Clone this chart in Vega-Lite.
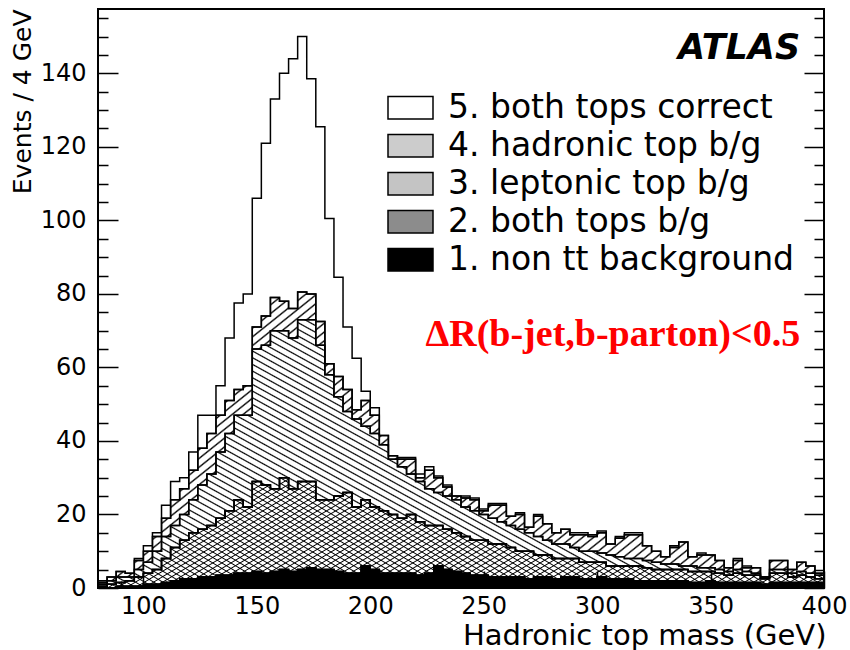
{
"$schema":"https://vega.github.io/schema/vega-lite/v6.json",
"width":726,"height":579,"autosize":"none",
"padding":{"left":98,"top":9,"right":26,"bottom":62},
"background":"white",
"config":{"view":{"stroke":"black","strokeWidth":2},"font":"DejaVu Sans","axis":{"labelOverlap":false,"labelFlush":false,"labelBound":false}},
"datasets":{"h":[
{"m":80,"c1":0,"c2":0.5,"c3":0.5,"c4":0.5,"c5":0.5},
{"m":84,"c1":0,"c2":1,"c3":1,"c4":1,"c5":0},
{"m":88,"c1":0.5,"c2":1,"c3":1.5,"c4":1.5,"c5":0},
{"m":92,"c1":0.5,"c2":1.5,"c3":1,"c4":1,"c5":0},
{"m":96,"c1":0.5,"c2":2.5,"c3":2,"c4":2.5,"c5":0.5},
{"m":100,"c1":1,"c2":3,"c3":3,"c4":3,"c5":1.5},
{"m":104,"c1":1,"c2":4,"c3":5,"c4":4,"c5":1},
{"m":108,"c1":1.5,"c2":6.5,"c3":6,"c4":5,"c5":3.5},
{"m":112,"c1":2,"c2":9,"c3":6,"c4":7,"c5":5},
{"m":116,"c1":2.5,"c2":10.5,"c3":7,"c4":7,"c5":3},
{"m":120,"c1":2.5,"c2":12.5,"c3":9,"c4":8,"c5":5},
{"m":124,"c1":3,"c2":13,"c3":12,"c4":10,"c5":9},
{"m":128,"c1":3,"c2":14,"c3":14,"c4":11,"c5":5},
{"m":132,"c1":3.5,"c2":15.5,"c3":18,"c4":10,"c5":8},
{"m":136,"c1":3.5,"c2":17.5,"c3":21,"c4":9,"c5":17},
{"m":140,"c1":4,"c2":20,"c3":23,"c4":7,"c5":23.5},
{"m":144,"c1":4,"c2":18,"c3":25,"c4":8,"c5":25},
{"m":148,"c1":4.5,"c2":24.5,"c3":36,"c4":6,"c5":35},
{"m":152,"c1":4,"c2":24,"c3":38,"c4":8,"c5":47},
{"m":156,"c1":4.5,"c2":22.5,"c3":43,"c4":9,"c5":54},
{"m":160,"c1":5,"c2":25,"c3":40,"c4":8,"c5":62},
{"m":164,"c1":4.5,"c2":22.5,"c3":41,"c4":8,"c5":68},
{"m":168,"c1":5,"c2":24,"c3":44,"c4":7.5,"c5":69.5},
{"m":172,"c1":5.5,"c2":23.5,"c3":44,"c4":7,"c5":58.5},
{"m":176,"c1":5,"c2":19,"c3":42,"c4":6.5,"c5":53},
{"m":180,"c1":5,"c2":19,"c3":34,"c4":3,"c5":39.5},
{"m":184,"c1":4.5,"c2":20.5,"c3":27,"c4":5.5,"c5":27},
{"m":188,"c1":4,"c2":22,"c3":22,"c4":6,"c5":17},
{"m":192,"c1":4,"c2":18,"c3":24,"c4":2.5,"c5":14},
{"m":196,"c1":6,"c2":18,"c3":20,"c4":7,"c5":2.5},
{"m":200,"c1":5,"c2":17,"c3":20,"c4":5,"c5":2},
{"m":204,"c1":4,"c2":17,"c3":18,"c4":2.5,"c5":0},
{"m":208,"c1":4,"c2":16,"c3":15,"c4":1,"c5":0},
{"m":212,"c1":4,"c2":15,"c3":14,"c4":2,"c5":0.5},
{"m":216,"c1":4,"c2":16,"c3":11,"c4":4,"c5":0.5},
{"m":220,"c1":3.5,"c2":14.5,"c3":11,"c4":1,"c5":1},
{"m":224,"c1":4,"c2":13,"c3":10,"c4":5,"c5":1},
{"m":228,"c1":6,"c2":11,"c3":9,"c4":4,"c5":0.5},
{"m":232,"c1":5,"c2":11,"c3":9,"c4":2.5,"c5":0.5},
{"m":236,"c1":4.5,"c2":10.5,"c3":9,"c4":1,"c5":0},
{"m":240,"c1":4,"c2":10,"c3":8,"c4":2.5,"c5":0.5},
{"m":244,"c1":3.5,"c2":9.5,"c3":8,"c4":3,"c5":0.5},
{"m":248,"c1":3.5,"c2":9.5,"c3":7,"c4":1,"c5":0.5},
{"m":252,"c1":3,"c2":9,"c3":7,"c4":3.5,"c5":0.5},
{"m":256,"c1":3,"c2":9,"c3":6,"c4":4.5,"c5":0.5},
{"m":260,"c1":3,"c2":8,"c3":6,"c4":2.5,"c5":0},
{"m":264,"c1":3,"c2":7,"c3":6,"c4":4,"c5":0.5},
{"m":268,"c1":2.5,"c2":7.5,"c3":5,"c4":1.5,"c5":0},
{"m":272,"c1":3,"c2":6,"c3":5,"c4":5.5,"c5":0.5},
{"m":276,"c1":3,"c2":6,"c3":4,"c4":4.5,"c5":0},
{"m":280,"c1":2.5,"c2":5.5,"c3":4,"c4":3,"c5":0},
{"m":284,"c1":3,"c2":5,"c3":4,"c4":4,"c5":0},
{"m":288,"c1":3,"c2":5,"c3":3,"c4":3.5,"c5":0.5},
{"m":292,"c1":2.5,"c2":4.5,"c3":3,"c4":4.5,"c5":0.5},
{"m":296,"c1":2.5,"c2":4.5,"c3":3,"c4":4,"c5":0.5},
{"m":300,"c1":3,"c2":4,"c3":2.5,"c4":5.5,"c5":0.5},
{"m":304,"c1":2.5,"c2":3.5,"c3":3,"c4":3,"c5":0},
{"m":308,"c1":2.5,"c2":3.5,"c3":2.5,"c4":5,"c5":0.5},
{"m":312,"c1":2.5,"c2":3.5,"c3":2,"c4":6.5,"c5":0.5},
{"m":316,"c1":2,"c2":4,"c3":2,"c4":6.5,"c5":0.5},
{"m":320,"c1":2,"c2":3.5,"c3":2,"c4":4,"c5":0},
{"m":324,"c1":2,"c2":3,"c3":2,"c4":3,"c5":0},
{"m":328,"c1":2,"c2":3,"c3":1.5,"c4":2,"c5":0},
{"m":332,"c1":2,"c2":3,"c3":1.5,"c4":4.5,"c5":0.5},
{"m":336,"c1":2,"c2":3,"c3":1,"c4":6.5,"c5":0},
{"m":340,"c1":1.5,"c2":3,"c3":1.5,"c4":2.5,"c5":0},
{"m":344,"c1":1.5,"c2":3,"c3":1,"c4":3.5,"c5":0.5},
{"m":348,"c1":2,"c2":2.5,"c3":1,"c4":3.5,"c5":0},
{"m":352,"c1":1.5,"c2":2.5,"c3":1,"c4":2.5,"c5":0},
{"m":356,"c1":1.5,"c2":2,"c3":1,"c4":1,"c5":0},
{"m":360,"c1":1.5,"c2":2.5,"c3":1,"c4":2.5,"c5":0.5},
{"m":364,"c1":1.5,"c2":2,"c3":1,"c4":1,"c5":0.5},
{"m":368,"c1":1.5,"c2":2,"c3":0.5,"c4":1.5,"c5":0},
{"m":372,"c1":1,"c2":1.5,"c3":0.5,"c4":0,"c5":0},
{"m":376,"c1":1.5,"c2":2.5,"c3":1,"c4":2.5,"c5":0},
{"m":380,"c1":1.5,"c2":2.5,"c3":1,"c4":2.5,"c5":0},
{"m":384,"c1":1.5,"c2":1.5,"c3":1,"c4":1,"c5":0},
{"m":388,"c1":1.5,"c2":2,"c3":1,"c4":2.5,"c5":0},
{"m":392,"c1":1.5,"c2":1.5,"c3":1,"c4":2,"c5":0},
{"m":396,"c1":1.5,"c2":1,"c3":1,"c4":0.5,"c5":0},
{"m":400,"c1":0,"c2":0,"c3":0,"c4":0,"c5":0}
]},
"layer":[
{"data":{"name":"h"},"transform":[{"fold":["c1","c2","c3","c4","c5"],"as":["k","n"]},{"stack":"n","groupby":["m"],"sort":[{"field":"k"}],"as":["y0","y1"]},{"filter":"datum.k == 'c5'"}],"mark":{"type":"area","interpolate":"step-after","stroke":"black","strokeWidth":1.5,"opacity":1},
"encoding":{
"x":{"field":"m","type":"quantitative","scale":{"domain":[80,400],"nice":false,"zero":false},
"axis":{"title":"Hadronic top mass (GeV)","values":[80,90,100,110,120,130,140,150,160,170,180,190,200,210,220,230,240,250,260,270,280,290,300,310,320,330,340,350,360,370,380,390,400],"labelExpr":"datum.value % 50 == 0 && datum.value >= 100 ? datum.label : ''","ticks":false,"domain":false,"grid":true,"gridColor":"black","gridWidth":1.5,"gridDash":{"condition":{"test":"datum.value % 50 == 0","value":[0,562,17,1000]},"value":[0,572,7,1000]},"labelFont":"DejaVu Sans","labelFontSize":24,"labelColor":"black","labelPadding":18,"labelBaseline":"middle","labelFlush":false,"labelOverlap":false,"labelBound":false,"titleFont":"DejaVu Sans","titleFontSize":29,"titleFontWeight":"normal","titleColor":"black","titleAnchor":"end","titleAlign":"right","titleX":728,"titleY":47,"titleBaseline":"middle","zindex":1}},
"y":{"field":"y1","type":"quantitative","scale":{"domain":[0,157.5],"nice":false},
"axis":{"title":"Events / 4 GeV","values":[0,5,10,15,20,25,30,35,40,45,50,55,60,65,70,75,80,85,90,95,100,105,110,115,120,125,130,135,140,145,150,155],"labelExpr":"datum.value % 20 == 0 ? datum.label : ''","ticks":false,"domain":false,"grid":true,"gridColor":"black","gridWidth":1.5,"gridDash":{"condition":{"test":"datum.value % 20 == 0","value":[20,686,20,1000]},"value":[10,706,10,1000]},"labelFont":"DejaVu Sans","labelFontSize":24,"labelColor":"black","labelPadding":12,"labelBaseline":"middle","labelOverlap":false,"labelBound":false,"titleFont":"DejaVu Sans","titleFontSize":25,"titleFontWeight":"normal","titleColor":"black","titleAngle":270,"titleAnchor":"end","titleAlign":"right","titleBaseline":"middle","titleX":-76,"titleY":0,"zindex":1}},
"y2":{"field":"y0"},
"fill":{"field":"k","type":"nominal","scale":{"domain":["c5","c4","c3","c2","c1"],"range":["white","#cccccc","#c4c4c4","#8c8c8c","black"]},
"legend":{"orient":"none","legendX":289,"legendY":80,"title":null,"labelFont":"DejaVu Sans","labelFontSize":33,"labelColor":"black","labelLimit":700,"symbolType":"M-1,-0.5H1V0.5H-1Z","symbolSize":2025,"symbolOpacity":1,"symbolStrokeColor":"black","symbolStrokeWidth":1.5,"clipHeight":37.5,"labelOffset":14,"rowPadding":0,"padding":0,
"labelExpr":"datum.value == 'c5' ? '5. both tops correct' : datum.value == 'c4' ? '4. hadronic top b/g' : datum.value == 'c3' ? '3. leptonic top b/g' : datum.value == 'c2' ? '2. both tops b/g' : '1. non tt background'"}}}},
{"data":{"name":"h"},"transform":[{"fold":["c1","c2","c3","c4","c5"],"as":["k","n"]},{"stack":"n","groupby":["m"],"sort":[{"field":"k"}],"as":["y0","y1"]},{"filter":"datum.k == 'c4'"}],"encoding":{
"x":{"field":"m","type":"quantitative","axis":{"title":"Hadronic top mass (GeV)","values":[80,90,100,110,120,130,140,150,160,170,180,190,200,210,220,230,240,250,260,270,280,290,300,310,320,330,340,350,360,370,380,390,400],"labelExpr":"datum.value % 50 == 0 && datum.value >= 100 ? datum.label : ''","ticks":false,"domain":false,"grid":true,"gridColor":"black","gridWidth":1.5,"gridDash":{"condition":{"test":"datum.value % 50 == 0","value":[0,562,17,1000]},"value":[0,572,7,1000]},"labelFont":"DejaVu Sans","labelFontSize":24,"labelColor":"black","labelPadding":18,"labelBaseline":"middle","labelFlush":false,"labelOverlap":false,"labelBound":false,"titleFont":"DejaVu Sans","titleFontSize":29,"titleFontWeight":"normal","titleColor":"black","titleAnchor":"end","titleAlign":"right","titleX":728,"titleY":47,"titleBaseline":"middle","zindex":1}},
"y":{"field":"y1","type":"quantitative","axis":{"title":"Events / 4 GeV","values":[0,5,10,15,20,25,30,35,40,45,50,55,60,65,70,75,80,85,90,95,100,105,110,115,120,125,130,135,140,145,150,155],"labelExpr":"datum.value % 20 == 0 ? datum.label : ''","ticks":false,"domain":false,"grid":true,"gridColor":"black","gridWidth":1.5,"gridDash":{"condition":{"test":"datum.value % 20 == 0","value":[20,686,20,1000]},"value":[10,706,10,1000]},"labelFont":"DejaVu Sans","labelFontSize":24,"labelColor":"black","labelPadding":12,"labelBaseline":"middle","labelOverlap":false,"labelBound":false,"titleFont":"DejaVu Sans","titleFontSize":25,"titleFontWeight":"normal","titleColor":"black","titleAngle":270,"titleAnchor":"end","titleAlign":"right","titleBaseline":"middle","titleX":-76,"titleY":0,"zindex":1}},
"y2":{"field":"y0"}},"mark":{"type":"area","interpolate":"step-after","stroke":"black","strokeWidth":1.5,"opacity":1,
"fill":{"gradient":"linear","x1":0,"y1":0,"x2":1.1984,"y2":0.6107,"stops":[{"offset":0.00,"color":"#0000"},{"offset":0.002,"color":"#000"},{"offset":0.004,"color":"#0000"},{"offset":0.01,"color":"#0000"},{"offset":0.012,"color":"#000"},{"offset":0.014,"color":"#0000"},{"offset":0.02,"color":"#0000"},{"offset":0.022,"color":"#000"},{"offset":0.024,"color":"#0000"},{"offset":0.03,"color":"#0000"},{"offset":0.032,"color":"#000"},{"offset":0.034,"color":"#0000"},{"offset":0.04,"color":"#0000"},{"offset":0.042,"color":"#000"},{"offset":0.044,"color":"#0000"},{"offset":0.05,"color":"#0000"},{"offset":0.052,"color":"#000"},{"offset":0.054,"color":"#0000"},{"offset":0.06,"color":"#0000"},{"offset":0.062,"color":"#000"},{"offset":0.064,"color":"#0000"},{"offset":0.07,"color":"#0000"},{"offset":0.072,"color":"#000"},{"offset":0.074,"color":"#0000"},{"offset":0.08,"color":"#0000"},{"offset":0.082,"color":"#000"},{"offset":0.084,"color":"#0000"},{"offset":0.09,"color":"#0000"},{"offset":0.092,"color":"#000"},{"offset":0.094,"color":"#0000"},{"offset":0.10,"color":"#0000"},{"offset":0.102,"color":"#000"},{"offset":0.104,"color":"#0000"},{"offset":0.11,"color":"#0000"},{"offset":0.112,"color":"#000"},{"offset":0.114,"color":"#0000"},{"offset":0.12,"color":"#0000"},{"offset":0.122,"color":"#000"},{"offset":0.124,"color":"#0000"},{"offset":0.13,"color":"#0000"},{"offset":0.132,"color":"#000"},{"offset":0.134,"color":"#0000"},{"offset":0.14,"color":"#0000"},{"offset":0.142,"color":"#000"},{"offset":0.144,"color":"#0000"},{"offset":0.15,"color":"#0000"},{"offset":0.152,"color":"#000"},{"offset":0.154,"color":"#0000"},{"offset":0.16,"color":"#0000"},{"offset":0.162,"color":"#000"},{"offset":0.164,"color":"#0000"},{"offset":0.17,"color":"#0000"},{"offset":0.172,"color":"#000"},{"offset":0.174,"color":"#0000"},{"offset":0.18,"color":"#0000"},{"offset":0.182,"color":"#000"},{"offset":0.184,"color":"#0000"},{"offset":0.19,"color":"#0000"},{"offset":0.192,"color":"#000"},{"offset":0.194,"color":"#0000"},{"offset":0.20,"color":"#0000"},{"offset":0.202,"color":"#000"},{"offset":0.204,"color":"#0000"},{"offset":0.21,"color":"#0000"},{"offset":0.212,"color":"#000"},{"offset":0.214,"color":"#0000"},{"offset":0.22,"color":"#0000"},{"offset":0.222,"color":"#000"},{"offset":0.224,"color":"#0000"},{"offset":0.23,"color":"#0000"},{"offset":0.232,"color":"#000"},{"offset":0.234,"color":"#0000"},{"offset":0.24,"color":"#0000"},{"offset":0.242,"color":"#000"},{"offset":0.244,"color":"#0000"},{"offset":0.25,"color":"#0000"},{"offset":0.252,"color":"#000"},{"offset":0.254,"color":"#0000"},{"offset":0.26,"color":"#0000"},{"offset":0.262,"color":"#000"},{"offset":0.264,"color":"#0000"},{"offset":0.27,"color":"#0000"},{"offset":0.272,"color":"#000"},{"offset":0.274,"color":"#0000"},{"offset":0.28,"color":"#0000"},{"offset":0.282,"color":"#000"},{"offset":0.284,"color":"#0000"},{"offset":0.29,"color":"#0000"},{"offset":0.292,"color":"#000"},{"offset":0.294,"color":"#0000"},{"offset":0.30,"color":"#0000"},{"offset":0.302,"color":"#000"},{"offset":0.304,"color":"#0000"},{"offset":0.31,"color":"#0000"},{"offset":0.312,"color":"#000"},{"offset":0.314,"color":"#0000"},{"offset":0.32,"color":"#0000"},{"offset":0.322,"color":"#000"},{"offset":0.324,"color":"#0000"},{"offset":0.33,"color":"#0000"},{"offset":0.332,"color":"#000"},{"offset":0.334,"color":"#0000"},{"offset":0.34,"color":"#0000"},{"offset":0.342,"color":"#000"},{"offset":0.344,"color":"#0000"},{"offset":0.35,"color":"#0000"},{"offset":0.352,"color":"#000"},{"offset":0.354,"color":"#0000"},{"offset":0.36,"color":"#0000"},{"offset":0.362,"color":"#000"},{"offset":0.364,"color":"#0000"},{"offset":0.37,"color":"#0000"},{"offset":0.372,"color":"#000"},{"offset":0.374,"color":"#0000"},{"offset":0.38,"color":"#0000"},{"offset":0.382,"color":"#000"},{"offset":0.384,"color":"#0000"},{"offset":0.39,"color":"#0000"},{"offset":0.392,"color":"#000"},{"offset":0.394,"color":"#0000"},{"offset":0.40,"color":"#0000"},{"offset":0.402,"color":"#000"},{"offset":0.404,"color":"#0000"},{"offset":0.41,"color":"#0000"},{"offset":0.412,"color":"#000"},{"offset":0.414,"color":"#0000"},{"offset":0.42,"color":"#0000"},{"offset":0.422,"color":"#000"},{"offset":0.424,"color":"#0000"},{"offset":0.43,"color":"#0000"},{"offset":0.432,"color":"#000"},{"offset":0.434,"color":"#0000"},{"offset":0.44,"color":"#0000"},{"offset":0.442,"color":"#000"},{"offset":0.444,"color":"#0000"},{"offset":0.45,"color":"#0000"},{"offset":0.452,"color":"#000"},{"offset":0.454,"color":"#0000"},{"offset":0.46,"color":"#0000"},{"offset":0.462,"color":"#000"},{"offset":0.464,"color":"#0000"},{"offset":0.47,"color":"#0000"},{"offset":0.472,"color":"#000"},{"offset":0.474,"color":"#0000"},{"offset":0.48,"color":"#0000"},{"offset":0.482,"color":"#000"},{"offset":0.484,"color":"#0000"},{"offset":0.49,"color":"#0000"},{"offset":0.492,"color":"#000"},{"offset":0.494,"color":"#0000"},{"offset":0.50,"color":"#0000"},{"offset":0.502,"color":"#000"},{"offset":0.504,"color":"#0000"},{"offset":0.51,"color":"#0000"},{"offset":0.512,"color":"#000"},{"offset":0.514,"color":"#0000"},{"offset":0.52,"color":"#0000"},{"offset":0.522,"color":"#000"},{"offset":0.524,"color":"#0000"},{"offset":0.53,"color":"#0000"},{"offset":0.532,"color":"#000"},{"offset":0.534,"color":"#0000"},{"offset":0.54,"color":"#0000"},{"offset":0.542,"color":"#000"},{"offset":0.544,"color":"#0000"},{"offset":0.55,"color":"#0000"},{"offset":0.552,"color":"#000"},{"offset":0.554,"color":"#0000"},{"offset":0.56,"color":"#0000"},{"offset":0.562,"color":"#000"},{"offset":0.564,"color":"#0000"},{"offset":0.57,"color":"#0000"},{"offset":0.572,"color":"#000"},{"offset":0.574,"color":"#0000"},{"offset":0.58,"color":"#0000"},{"offset":0.582,"color":"#000"},{"offset":0.584,"color":"#0000"},{"offset":0.59,"color":"#0000"},{"offset":0.592,"color":"#000"},{"offset":0.594,"color":"#0000"},{"offset":0.60,"color":"#0000"},{"offset":0.602,"color":"#000"},{"offset":0.604,"color":"#0000"},{"offset":0.61,"color":"#0000"},{"offset":0.612,"color":"#000"},{"offset":0.614,"color":"#0000"},{"offset":0.62,"color":"#0000"},{"offset":0.622,"color":"#000"},{"offset":0.624,"color":"#0000"},{"offset":0.63,"color":"#0000"},{"offset":0.632,"color":"#000"},{"offset":0.634,"color":"#0000"},{"offset":0.64,"color":"#0000"},{"offset":0.642,"color":"#000"},{"offset":0.644,"color":"#0000"},{"offset":0.65,"color":"#0000"},{"offset":0.652,"color":"#000"},{"offset":0.654,"color":"#0000"},{"offset":0.66,"color":"#0000"},{"offset":0.662,"color":"#000"},{"offset":0.664,"color":"#0000"},{"offset":0.67,"color":"#0000"},{"offset":0.672,"color":"#000"},{"offset":0.674,"color":"#0000"},{"offset":0.68,"color":"#0000"},{"offset":0.682,"color":"#000"},{"offset":0.684,"color":"#0000"},{"offset":0.69,"color":"#0000"},{"offset":0.692,"color":"#000"},{"offset":0.694,"color":"#0000"},{"offset":0.70,"color":"#0000"},{"offset":0.702,"color":"#000"},{"offset":0.704,"color":"#0000"},{"offset":0.71,"color":"#0000"},{"offset":0.712,"color":"#000"},{"offset":0.714,"color":"#0000"},{"offset":0.72,"color":"#0000"},{"offset":0.722,"color":"#000"},{"offset":0.724,"color":"#0000"},{"offset":0.73,"color":"#0000"},{"offset":0.732,"color":"#000"},{"offset":0.734,"color":"#0000"},{"offset":0.74,"color":"#0000"},{"offset":0.742,"color":"#000"},{"offset":0.744,"color":"#0000"},{"offset":0.75,"color":"#0000"},{"offset":0.752,"color":"#000"},{"offset":0.754,"color":"#0000"},{"offset":0.76,"color":"#0000"},{"offset":0.762,"color":"#000"},{"offset":0.764,"color":"#0000"},{"offset":0.77,"color":"#0000"},{"offset":0.772,"color":"#000"},{"offset":0.774,"color":"#0000"},{"offset":0.78,"color":"#0000"},{"offset":0.782,"color":"#000"},{"offset":0.784,"color":"#0000"},{"offset":0.79,"color":"#0000"},{"offset":0.792,"color":"#000"},{"offset":0.794,"color":"#0000"},{"offset":0.80,"color":"#0000"},{"offset":0.802,"color":"#000"},{"offset":0.804,"color":"#0000"},{"offset":0.81,"color":"#0000"},{"offset":0.812,"color":"#000"},{"offset":0.814,"color":"#0000"},{"offset":0.82,"color":"#0000"},{"offset":0.822,"color":"#000"},{"offset":0.824,"color":"#0000"},{"offset":0.83,"color":"#0000"},{"offset":0.832,"color":"#000"},{"offset":0.834,"color":"#0000"},{"offset":0.84,"color":"#0000"},{"offset":0.842,"color":"#000"},{"offset":0.844,"color":"#0000"},{"offset":0.85,"color":"#0000"},{"offset":0.852,"color":"#000"},{"offset":0.854,"color":"#0000"},{"offset":0.86,"color":"#0000"},{"offset":0.862,"color":"#000"},{"offset":0.864,"color":"#0000"},{"offset":0.87,"color":"#0000"},{"offset":0.872,"color":"#000"},{"offset":0.874,"color":"#0000"},{"offset":0.88,"color":"#0000"},{"offset":0.882,"color":"#000"},{"offset":0.884,"color":"#0000"},{"offset":0.89,"color":"#0000"},{"offset":0.892,"color":"#000"},{"offset":0.894,"color":"#0000"},{"offset":0.90,"color":"#0000"},{"offset":0.902,"color":"#000"},{"offset":0.904,"color":"#0000"},{"offset":0.91,"color":"#0000"},{"offset":0.912,"color":"#000"},{"offset":0.914,"color":"#0000"},{"offset":0.92,"color":"#0000"},{"offset":0.922,"color":"#000"},{"offset":0.924,"color":"#0000"},{"offset":0.93,"color":"#0000"},{"offset":0.932,"color":"#000"},{"offset":0.934,"color":"#0000"},{"offset":0.94,"color":"#0000"},{"offset":0.942,"color":"#000"},{"offset":0.944,"color":"#0000"},{"offset":0.95,"color":"#0000"},{"offset":0.952,"color":"#000"},{"offset":0.954,"color":"#0000"},{"offset":0.96,"color":"#0000"},{"offset":0.962,"color":"#000"},{"offset":0.964,"color":"#0000"},{"offset":0.97,"color":"#0000"},{"offset":0.972,"color":"#000"},{"offset":0.974,"color":"#0000"},{"offset":0.98,"color":"#0000"},{"offset":0.982,"color":"#000"},{"offset":0.984,"color":"#0000"},{"offset":0.99,"color":"#0000"},{"offset":0.992,"color":"#000"},{"offset":0.994,"color":"#0000"}]}}},
{"data":{"name":"h"},"transform":[{"fold":["c1","c2","c3","c4","c5"],"as":["k","n"]},{"stack":"n","groupby":["m"],"sort":[{"field":"k"}],"as":["y0","y1"]},{"filter":"datum.k == 'c3'"}],"encoding":{
"x":{"field":"m","type":"quantitative","axis":{"title":"Hadronic top mass (GeV)","values":[80,90,100,110,120,130,140,150,160,170,180,190,200,210,220,230,240,250,260,270,280,290,300,310,320,330,340,350,360,370,380,390,400],"labelExpr":"datum.value % 50 == 0 && datum.value >= 100 ? datum.label : ''","ticks":false,"domain":false,"grid":true,"gridColor":"black","gridWidth":1.5,"gridDash":{"condition":{"test":"datum.value % 50 == 0","value":[0,562,17,1000]},"value":[0,572,7,1000]},"labelFont":"DejaVu Sans","labelFontSize":24,"labelColor":"black","labelPadding":18,"labelBaseline":"middle","labelFlush":false,"labelOverlap":false,"labelBound":false,"titleFont":"DejaVu Sans","titleFontSize":29,"titleFontWeight":"normal","titleColor":"black","titleAnchor":"end","titleAlign":"right","titleX":728,"titleY":47,"titleBaseline":"middle","zindex":1}},
"y":{"field":"y1","type":"quantitative","axis":{"title":"Events / 4 GeV","values":[0,5,10,15,20,25,30,35,40,45,50,55,60,65,70,75,80,85,90,95,100,105,110,115,120,125,130,135,140,145,150,155],"labelExpr":"datum.value % 20 == 0 ? datum.label : ''","ticks":false,"domain":false,"grid":true,"gridColor":"black","gridWidth":1.5,"gridDash":{"condition":{"test":"datum.value % 20 == 0","value":[20,686,20,1000]},"value":[10,706,10,1000]},"labelFont":"DejaVu Sans","labelFontSize":24,"labelColor":"black","labelPadding":12,"labelBaseline":"middle","labelOverlap":false,"labelBound":false,"titleFont":"DejaVu Sans","titleFontSize":25,"titleFontWeight":"normal","titleColor":"black","titleAngle":270,"titleAnchor":"end","titleAlign":"right","titleBaseline":"middle","titleX":-76,"titleY":0,"zindex":1}},
"y2":{"field":"y0"}},"mark":{"type":"area","interpolate":"step-after","stroke":"black","strokeWidth":1.5,"opacity":1,
"fill":{"gradient":"linear","x1":0,"y1":1,"x2":1.1521,"y2":0.2267,"stops":[{"offset":0.00,"color":"#0000"},{"offset":0.002,"color":"#000"},{"offset":0.004,"color":"#0000"},{"offset":0.01,"color":"#0000"},{"offset":0.012,"color":"#000"},{"offset":0.014,"color":"#0000"},{"offset":0.02,"color":"#0000"},{"offset":0.022,"color":"#000"},{"offset":0.024,"color":"#0000"},{"offset":0.03,"color":"#0000"},{"offset":0.032,"color":"#000"},{"offset":0.034,"color":"#0000"},{"offset":0.04,"color":"#0000"},{"offset":0.042,"color":"#000"},{"offset":0.044,"color":"#0000"},{"offset":0.05,"color":"#0000"},{"offset":0.052,"color":"#000"},{"offset":0.054,"color":"#0000"},{"offset":0.06,"color":"#0000"},{"offset":0.062,"color":"#000"},{"offset":0.064,"color":"#0000"},{"offset":0.07,"color":"#0000"},{"offset":0.072,"color":"#000"},{"offset":0.074,"color":"#0000"},{"offset":0.08,"color":"#0000"},{"offset":0.082,"color":"#000"},{"offset":0.084,"color":"#0000"},{"offset":0.09,"color":"#0000"},{"offset":0.092,"color":"#000"},{"offset":0.094,"color":"#0000"},{"offset":0.10,"color":"#0000"},{"offset":0.102,"color":"#000"},{"offset":0.104,"color":"#0000"},{"offset":0.11,"color":"#0000"},{"offset":0.112,"color":"#000"},{"offset":0.114,"color":"#0000"},{"offset":0.12,"color":"#0000"},{"offset":0.122,"color":"#000"},{"offset":0.124,"color":"#0000"},{"offset":0.13,"color":"#0000"},{"offset":0.132,"color":"#000"},{"offset":0.134,"color":"#0000"},{"offset":0.14,"color":"#0000"},{"offset":0.142,"color":"#000"},{"offset":0.144,"color":"#0000"},{"offset":0.15,"color":"#0000"},{"offset":0.152,"color":"#000"},{"offset":0.154,"color":"#0000"},{"offset":0.16,"color":"#0000"},{"offset":0.162,"color":"#000"},{"offset":0.164,"color":"#0000"},{"offset":0.17,"color":"#0000"},{"offset":0.172,"color":"#000"},{"offset":0.174,"color":"#0000"},{"offset":0.18,"color":"#0000"},{"offset":0.182,"color":"#000"},{"offset":0.184,"color":"#0000"},{"offset":0.19,"color":"#0000"},{"offset":0.192,"color":"#000"},{"offset":0.194,"color":"#0000"},{"offset":0.20,"color":"#0000"},{"offset":0.202,"color":"#000"},{"offset":0.204,"color":"#0000"},{"offset":0.21,"color":"#0000"},{"offset":0.212,"color":"#000"},{"offset":0.214,"color":"#0000"},{"offset":0.22,"color":"#0000"},{"offset":0.222,"color":"#000"},{"offset":0.224,"color":"#0000"},{"offset":0.23,"color":"#0000"},{"offset":0.232,"color":"#000"},{"offset":0.234,"color":"#0000"},{"offset":0.24,"color":"#0000"},{"offset":0.242,"color":"#000"},{"offset":0.244,"color":"#0000"},{"offset":0.25,"color":"#0000"},{"offset":0.252,"color":"#000"},{"offset":0.254,"color":"#0000"},{"offset":0.26,"color":"#0000"},{"offset":0.262,"color":"#000"},{"offset":0.264,"color":"#0000"},{"offset":0.27,"color":"#0000"},{"offset":0.272,"color":"#000"},{"offset":0.274,"color":"#0000"},{"offset":0.28,"color":"#0000"},{"offset":0.282,"color":"#000"},{"offset":0.284,"color":"#0000"},{"offset":0.29,"color":"#0000"},{"offset":0.292,"color":"#000"},{"offset":0.294,"color":"#0000"},{"offset":0.30,"color":"#0000"},{"offset":0.302,"color":"#000"},{"offset":0.304,"color":"#0000"},{"offset":0.31,"color":"#0000"},{"offset":0.312,"color":"#000"},{"offset":0.314,"color":"#0000"},{"offset":0.32,"color":"#0000"},{"offset":0.322,"color":"#000"},{"offset":0.324,"color":"#0000"},{"offset":0.33,"color":"#0000"},{"offset":0.332,"color":"#000"},{"offset":0.334,"color":"#0000"},{"offset":0.34,"color":"#0000"},{"offset":0.342,"color":"#000"},{"offset":0.344,"color":"#0000"},{"offset":0.35,"color":"#0000"},{"offset":0.352,"color":"#000"},{"offset":0.354,"color":"#0000"},{"offset":0.36,"color":"#0000"},{"offset":0.362,"color":"#000"},{"offset":0.364,"color":"#0000"},{"offset":0.37,"color":"#0000"},{"offset":0.372,"color":"#000"},{"offset":0.374,"color":"#0000"},{"offset":0.38,"color":"#0000"},{"offset":0.382,"color":"#000"},{"offset":0.384,"color":"#0000"},{"offset":0.39,"color":"#0000"},{"offset":0.392,"color":"#000"},{"offset":0.394,"color":"#0000"},{"offset":0.40,"color":"#0000"},{"offset":0.402,"color":"#000"},{"offset":0.404,"color":"#0000"},{"offset":0.41,"color":"#0000"},{"offset":0.412,"color":"#000"},{"offset":0.414,"color":"#0000"},{"offset":0.42,"color":"#0000"},{"offset":0.422,"color":"#000"},{"offset":0.424,"color":"#0000"},{"offset":0.43,"color":"#0000"},{"offset":0.432,"color":"#000"},{"offset":0.434,"color":"#0000"},{"offset":0.44,"color":"#0000"},{"offset":0.442,"color":"#000"},{"offset":0.444,"color":"#0000"},{"offset":0.45,"color":"#0000"},{"offset":0.452,"color":"#000"},{"offset":0.454,"color":"#0000"},{"offset":0.46,"color":"#0000"},{"offset":0.462,"color":"#000"},{"offset":0.464,"color":"#0000"},{"offset":0.47,"color":"#0000"},{"offset":0.472,"color":"#000"},{"offset":0.474,"color":"#0000"},{"offset":0.48,"color":"#0000"},{"offset":0.482,"color":"#000"},{"offset":0.484,"color":"#0000"},{"offset":0.49,"color":"#0000"},{"offset":0.492,"color":"#000"},{"offset":0.494,"color":"#0000"},{"offset":0.50,"color":"#0000"},{"offset":0.502,"color":"#000"},{"offset":0.504,"color":"#0000"},{"offset":0.51,"color":"#0000"},{"offset":0.512,"color":"#000"},{"offset":0.514,"color":"#0000"},{"offset":0.52,"color":"#0000"},{"offset":0.522,"color":"#000"},{"offset":0.524,"color":"#0000"},{"offset":0.53,"color":"#0000"},{"offset":0.532,"color":"#000"},{"offset":0.534,"color":"#0000"},{"offset":0.54,"color":"#0000"},{"offset":0.542,"color":"#000"},{"offset":0.544,"color":"#0000"},{"offset":0.55,"color":"#0000"},{"offset":0.552,"color":"#000"},{"offset":0.554,"color":"#0000"},{"offset":0.56,"color":"#0000"},{"offset":0.562,"color":"#000"},{"offset":0.564,"color":"#0000"},{"offset":0.57,"color":"#0000"},{"offset":0.572,"color":"#000"},{"offset":0.574,"color":"#0000"},{"offset":0.58,"color":"#0000"},{"offset":0.582,"color":"#000"},{"offset":0.584,"color":"#0000"},{"offset":0.59,"color":"#0000"},{"offset":0.592,"color":"#000"},{"offset":0.594,"color":"#0000"},{"offset":0.60,"color":"#0000"},{"offset":0.602,"color":"#000"},{"offset":0.604,"color":"#0000"},{"offset":0.61,"color":"#0000"},{"offset":0.612,"color":"#000"},{"offset":0.614,"color":"#0000"},{"offset":0.62,"color":"#0000"},{"offset":0.622,"color":"#000"},{"offset":0.624,"color":"#0000"},{"offset":0.63,"color":"#0000"},{"offset":0.632,"color":"#000"},{"offset":0.634,"color":"#0000"},{"offset":0.64,"color":"#0000"},{"offset":0.642,"color":"#000"},{"offset":0.644,"color":"#0000"},{"offset":0.65,"color":"#0000"},{"offset":0.652,"color":"#000"},{"offset":0.654,"color":"#0000"},{"offset":0.66,"color":"#0000"},{"offset":0.662,"color":"#000"},{"offset":0.664,"color":"#0000"},{"offset":0.67,"color":"#0000"},{"offset":0.672,"color":"#000"},{"offset":0.674,"color":"#0000"},{"offset":0.68,"color":"#0000"},{"offset":0.682,"color":"#000"},{"offset":0.684,"color":"#0000"},{"offset":0.69,"color":"#0000"},{"offset":0.692,"color":"#000"},{"offset":0.694,"color":"#0000"},{"offset":0.70,"color":"#0000"},{"offset":0.702,"color":"#000"},{"offset":0.704,"color":"#0000"},{"offset":0.71,"color":"#0000"},{"offset":0.712,"color":"#000"},{"offset":0.714,"color":"#0000"},{"offset":0.72,"color":"#0000"},{"offset":0.722,"color":"#000"},{"offset":0.724,"color":"#0000"},{"offset":0.73,"color":"#0000"},{"offset":0.732,"color":"#000"},{"offset":0.734,"color":"#0000"},{"offset":0.74,"color":"#0000"},{"offset":0.742,"color":"#000"},{"offset":0.744,"color":"#0000"},{"offset":0.75,"color":"#0000"},{"offset":0.752,"color":"#000"},{"offset":0.754,"color":"#0000"},{"offset":0.76,"color":"#0000"},{"offset":0.762,"color":"#000"},{"offset":0.764,"color":"#0000"},{"offset":0.77,"color":"#0000"},{"offset":0.772,"color":"#000"},{"offset":0.774,"color":"#0000"},{"offset":0.78,"color":"#0000"},{"offset":0.782,"color":"#000"},{"offset":0.784,"color":"#0000"},{"offset":0.79,"color":"#0000"},{"offset":0.792,"color":"#000"},{"offset":0.794,"color":"#0000"},{"offset":0.80,"color":"#0000"},{"offset":0.802,"color":"#000"},{"offset":0.804,"color":"#0000"},{"offset":0.81,"color":"#0000"},{"offset":0.812,"color":"#000"},{"offset":0.814,"color":"#0000"},{"offset":0.82,"color":"#0000"},{"offset":0.822,"color":"#000"},{"offset":0.824,"color":"#0000"},{"offset":0.83,"color":"#0000"},{"offset":0.832,"color":"#000"},{"offset":0.834,"color":"#0000"},{"offset":0.84,"color":"#0000"},{"offset":0.842,"color":"#000"},{"offset":0.844,"color":"#0000"},{"offset":0.85,"color":"#0000"},{"offset":0.852,"color":"#000"},{"offset":0.854,"color":"#0000"},{"offset":0.86,"color":"#0000"},{"offset":0.862,"color":"#000"},{"offset":0.864,"color":"#0000"},{"offset":0.87,"color":"#0000"},{"offset":0.872,"color":"#000"},{"offset":0.874,"color":"#0000"},{"offset":0.88,"color":"#0000"},{"offset":0.882,"color":"#000"},{"offset":0.884,"color":"#0000"},{"offset":0.89,"color":"#0000"},{"offset":0.892,"color":"#000"},{"offset":0.894,"color":"#0000"},{"offset":0.90,"color":"#0000"},{"offset":0.902,"color":"#000"},{"offset":0.904,"color":"#0000"},{"offset":0.91,"color":"#0000"},{"offset":0.912,"color":"#000"},{"offset":0.914,"color":"#0000"},{"offset":0.92,"color":"#0000"},{"offset":0.922,"color":"#000"},{"offset":0.924,"color":"#0000"},{"offset":0.93,"color":"#0000"},{"offset":0.932,"color":"#000"},{"offset":0.934,"color":"#0000"},{"offset":0.94,"color":"#0000"},{"offset":0.942,"color":"#000"},{"offset":0.944,"color":"#0000"},{"offset":0.95,"color":"#0000"},{"offset":0.952,"color":"#000"},{"offset":0.954,"color":"#0000"},{"offset":0.96,"color":"#0000"},{"offset":0.962,"color":"#000"},{"offset":0.964,"color":"#0000"},{"offset":0.97,"color":"#0000"},{"offset":0.972,"color":"#000"},{"offset":0.974,"color":"#0000"},{"offset":0.98,"color":"#0000"},{"offset":0.982,"color":"#000"},{"offset":0.984,"color":"#0000"},{"offset":0.99,"color":"#0000"},{"offset":0.992,"color":"#000"},{"offset":0.994,"color":"#0000"}]}}},
{"data":{"name":"h"},"transform":[{"fold":["c1","c2","c3","c4","c5"],"as":["k","n"]},{"stack":"n","groupby":["m"],"sort":[{"field":"k"}],"as":["y0","y1"]},{"filter":"datum.k == 'c2'"}],"encoding":{
"x":{"field":"m","type":"quantitative","axis":{"title":"Hadronic top mass (GeV)","values":[80,90,100,110,120,130,140,150,160,170,180,190,200,210,220,230,240,250,260,270,280,290,300,310,320,330,340,350,360,370,380,390,400],"labelExpr":"datum.value % 50 == 0 && datum.value >= 100 ? datum.label : ''","ticks":false,"domain":false,"grid":true,"gridColor":"black","gridWidth":1.5,"gridDash":{"condition":{"test":"datum.value % 50 == 0","value":[0,562,17,1000]},"value":[0,572,7,1000]},"labelFont":"DejaVu Sans","labelFontSize":24,"labelColor":"black","labelPadding":18,"labelBaseline":"middle","labelFlush":false,"labelOverlap":false,"labelBound":false,"titleFont":"DejaVu Sans","titleFontSize":29,"titleFontWeight":"normal","titleColor":"black","titleAnchor":"end","titleAlign":"right","titleX":728,"titleY":47,"titleBaseline":"middle","zindex":1}},
"y":{"field":"y1","type":"quantitative","axis":{"title":"Events / 4 GeV","values":[0,5,10,15,20,25,30,35,40,45,50,55,60,65,70,75,80,85,90,95,100,105,110,115,120,125,130,135,140,145,150,155],"labelExpr":"datum.value % 20 == 0 ? datum.label : ''","ticks":false,"domain":false,"grid":true,"gridColor":"black","gridWidth":1.5,"gridDash":{"condition":{"test":"datum.value % 20 == 0","value":[20,686,20,1000]},"value":[10,706,10,1000]},"labelFont":"DejaVu Sans","labelFontSize":24,"labelColor":"black","labelPadding":12,"labelBaseline":"middle","labelOverlap":false,"labelBound":false,"titleFont":"DejaVu Sans","titleFontSize":25,"titleFontWeight":"normal","titleColor":"black","titleAngle":270,"titleAnchor":"end","titleAlign":"right","titleBaseline":"middle","titleX":-76,"titleY":0,"zindex":1}},
"y2":{"field":"y0"}},"mark":{"type":"area","interpolate":"step-after","stroke":"black","strokeWidth":1.5,"opacity":1,
"fill":{"gradient":"linear","x1":0,"y1":0,"x2":1.1774,"y2":0.2973,"stops":[{"offset":0.00,"color":"#0000"},{"offset":0.002,"color":"#000"},{"offset":0.004,"color":"#0000"},{"offset":0.01,"color":"#0000"},{"offset":0.012,"color":"#000"},{"offset":0.014,"color":"#0000"},{"offset":0.02,"color":"#0000"},{"offset":0.022,"color":"#000"},{"offset":0.024,"color":"#0000"},{"offset":0.03,"color":"#0000"},{"offset":0.032,"color":"#000"},{"offset":0.034,"color":"#0000"},{"offset":0.04,"color":"#0000"},{"offset":0.042,"color":"#000"},{"offset":0.044,"color":"#0000"},{"offset":0.05,"color":"#0000"},{"offset":0.052,"color":"#000"},{"offset":0.054,"color":"#0000"},{"offset":0.06,"color":"#0000"},{"offset":0.062,"color":"#000"},{"offset":0.064,"color":"#0000"},{"offset":0.07,"color":"#0000"},{"offset":0.072,"color":"#000"},{"offset":0.074,"color":"#0000"},{"offset":0.08,"color":"#0000"},{"offset":0.082,"color":"#000"},{"offset":0.084,"color":"#0000"},{"offset":0.09,"color":"#0000"},{"offset":0.092,"color":"#000"},{"offset":0.094,"color":"#0000"},{"offset":0.10,"color":"#0000"},{"offset":0.102,"color":"#000"},{"offset":0.104,"color":"#0000"},{"offset":0.11,"color":"#0000"},{"offset":0.112,"color":"#000"},{"offset":0.114,"color":"#0000"},{"offset":0.12,"color":"#0000"},{"offset":0.122,"color":"#000"},{"offset":0.124,"color":"#0000"},{"offset":0.13,"color":"#0000"},{"offset":0.132,"color":"#000"},{"offset":0.134,"color":"#0000"},{"offset":0.14,"color":"#0000"},{"offset":0.142,"color":"#000"},{"offset":0.144,"color":"#0000"},{"offset":0.15,"color":"#0000"},{"offset":0.152,"color":"#000"},{"offset":0.154,"color":"#0000"},{"offset":0.16,"color":"#0000"},{"offset":0.162,"color":"#000"},{"offset":0.164,"color":"#0000"},{"offset":0.17,"color":"#0000"},{"offset":0.172,"color":"#000"},{"offset":0.174,"color":"#0000"},{"offset":0.18,"color":"#0000"},{"offset":0.182,"color":"#000"},{"offset":0.184,"color":"#0000"},{"offset":0.19,"color":"#0000"},{"offset":0.192,"color":"#000"},{"offset":0.194,"color":"#0000"},{"offset":0.20,"color":"#0000"},{"offset":0.202,"color":"#000"},{"offset":0.204,"color":"#0000"},{"offset":0.21,"color":"#0000"},{"offset":0.212,"color":"#000"},{"offset":0.214,"color":"#0000"},{"offset":0.22,"color":"#0000"},{"offset":0.222,"color":"#000"},{"offset":0.224,"color":"#0000"},{"offset":0.23,"color":"#0000"},{"offset":0.232,"color":"#000"},{"offset":0.234,"color":"#0000"},{"offset":0.24,"color":"#0000"},{"offset":0.242,"color":"#000"},{"offset":0.244,"color":"#0000"},{"offset":0.25,"color":"#0000"},{"offset":0.252,"color":"#000"},{"offset":0.254,"color":"#0000"},{"offset":0.26,"color":"#0000"},{"offset":0.262,"color":"#000"},{"offset":0.264,"color":"#0000"},{"offset":0.27,"color":"#0000"},{"offset":0.272,"color":"#000"},{"offset":0.274,"color":"#0000"},{"offset":0.28,"color":"#0000"},{"offset":0.282,"color":"#000"},{"offset":0.284,"color":"#0000"},{"offset":0.29,"color":"#0000"},{"offset":0.292,"color":"#000"},{"offset":0.294,"color":"#0000"},{"offset":0.30,"color":"#0000"},{"offset":0.302,"color":"#000"},{"offset":0.304,"color":"#0000"},{"offset":0.31,"color":"#0000"},{"offset":0.312,"color":"#000"},{"offset":0.314,"color":"#0000"},{"offset":0.32,"color":"#0000"},{"offset":0.322,"color":"#000"},{"offset":0.324,"color":"#0000"},{"offset":0.33,"color":"#0000"},{"offset":0.332,"color":"#000"},{"offset":0.334,"color":"#0000"},{"offset":0.34,"color":"#0000"},{"offset":0.342,"color":"#000"},{"offset":0.344,"color":"#0000"},{"offset":0.35,"color":"#0000"},{"offset":0.352,"color":"#000"},{"offset":0.354,"color":"#0000"},{"offset":0.36,"color":"#0000"},{"offset":0.362,"color":"#000"},{"offset":0.364,"color":"#0000"},{"offset":0.37,"color":"#0000"},{"offset":0.372,"color":"#000"},{"offset":0.374,"color":"#0000"},{"offset":0.38,"color":"#0000"},{"offset":0.382,"color":"#000"},{"offset":0.384,"color":"#0000"},{"offset":0.39,"color":"#0000"},{"offset":0.392,"color":"#000"},{"offset":0.394,"color":"#0000"},{"offset":0.40,"color":"#0000"},{"offset":0.402,"color":"#000"},{"offset":0.404,"color":"#0000"},{"offset":0.41,"color":"#0000"},{"offset":0.412,"color":"#000"},{"offset":0.414,"color":"#0000"},{"offset":0.42,"color":"#0000"},{"offset":0.422,"color":"#000"},{"offset":0.424,"color":"#0000"},{"offset":0.43,"color":"#0000"},{"offset":0.432,"color":"#000"},{"offset":0.434,"color":"#0000"},{"offset":0.44,"color":"#0000"},{"offset":0.442,"color":"#000"},{"offset":0.444,"color":"#0000"},{"offset":0.45,"color":"#0000"},{"offset":0.452,"color":"#000"},{"offset":0.454,"color":"#0000"},{"offset":0.46,"color":"#0000"},{"offset":0.462,"color":"#000"},{"offset":0.464,"color":"#0000"},{"offset":0.47,"color":"#0000"},{"offset":0.472,"color":"#000"},{"offset":0.474,"color":"#0000"},{"offset":0.48,"color":"#0000"},{"offset":0.482,"color":"#000"},{"offset":0.484,"color":"#0000"},{"offset":0.49,"color":"#0000"},{"offset":0.492,"color":"#000"},{"offset":0.494,"color":"#0000"},{"offset":0.50,"color":"#0000"},{"offset":0.502,"color":"#000"},{"offset":0.504,"color":"#0000"},{"offset":0.51,"color":"#0000"},{"offset":0.512,"color":"#000"},{"offset":0.514,"color":"#0000"},{"offset":0.52,"color":"#0000"},{"offset":0.522,"color":"#000"},{"offset":0.524,"color":"#0000"},{"offset":0.53,"color":"#0000"},{"offset":0.532,"color":"#000"},{"offset":0.534,"color":"#0000"},{"offset":0.54,"color":"#0000"},{"offset":0.542,"color":"#000"},{"offset":0.544,"color":"#0000"},{"offset":0.55,"color":"#0000"},{"offset":0.552,"color":"#000"},{"offset":0.554,"color":"#0000"},{"offset":0.56,"color":"#0000"},{"offset":0.562,"color":"#000"},{"offset":0.564,"color":"#0000"},{"offset":0.57,"color":"#0000"},{"offset":0.572,"color":"#000"},{"offset":0.574,"color":"#0000"},{"offset":0.58,"color":"#0000"},{"offset":0.582,"color":"#000"},{"offset":0.584,"color":"#0000"},{"offset":0.59,"color":"#0000"},{"offset":0.592,"color":"#000"},{"offset":0.594,"color":"#0000"},{"offset":0.60,"color":"#0000"},{"offset":0.602,"color":"#000"},{"offset":0.604,"color":"#0000"},{"offset":0.61,"color":"#0000"},{"offset":0.612,"color":"#000"},{"offset":0.614,"color":"#0000"},{"offset":0.62,"color":"#0000"},{"offset":0.622,"color":"#000"},{"offset":0.624,"color":"#0000"},{"offset":0.63,"color":"#0000"},{"offset":0.632,"color":"#000"},{"offset":0.634,"color":"#0000"},{"offset":0.64,"color":"#0000"},{"offset":0.642,"color":"#000"},{"offset":0.644,"color":"#0000"},{"offset":0.65,"color":"#0000"},{"offset":0.652,"color":"#000"},{"offset":0.654,"color":"#0000"},{"offset":0.66,"color":"#0000"},{"offset":0.662,"color":"#000"},{"offset":0.664,"color":"#0000"},{"offset":0.67,"color":"#0000"},{"offset":0.672,"color":"#000"},{"offset":0.674,"color":"#0000"},{"offset":0.68,"color":"#0000"},{"offset":0.682,"color":"#000"},{"offset":0.684,"color":"#0000"},{"offset":0.69,"color":"#0000"},{"offset":0.692,"color":"#000"},{"offset":0.694,"color":"#0000"},{"offset":0.70,"color":"#0000"},{"offset":0.702,"color":"#000"},{"offset":0.704,"color":"#0000"},{"offset":0.71,"color":"#0000"},{"offset":0.712,"color":"#000"},{"offset":0.714,"color":"#0000"},{"offset":0.72,"color":"#0000"},{"offset":0.722,"color":"#000"},{"offset":0.724,"color":"#0000"},{"offset":0.73,"color":"#0000"},{"offset":0.732,"color":"#000"},{"offset":0.734,"color":"#0000"},{"offset":0.74,"color":"#0000"},{"offset":0.742,"color":"#000"},{"offset":0.744,"color":"#0000"},{"offset":0.75,"color":"#0000"},{"offset":0.752,"color":"#000"},{"offset":0.754,"color":"#0000"},{"offset":0.76,"color":"#0000"},{"offset":0.762,"color":"#000"},{"offset":0.764,"color":"#0000"},{"offset":0.77,"color":"#0000"},{"offset":0.772,"color":"#000"},{"offset":0.774,"color":"#0000"},{"offset":0.78,"color":"#0000"},{"offset":0.782,"color":"#000"},{"offset":0.784,"color":"#0000"},{"offset":0.79,"color":"#0000"},{"offset":0.792,"color":"#000"},{"offset":0.794,"color":"#0000"},{"offset":0.80,"color":"#0000"},{"offset":0.802,"color":"#000"},{"offset":0.804,"color":"#0000"},{"offset":0.81,"color":"#0000"},{"offset":0.812,"color":"#000"},{"offset":0.814,"color":"#0000"},{"offset":0.82,"color":"#0000"},{"offset":0.822,"color":"#000"},{"offset":0.824,"color":"#0000"},{"offset":0.83,"color":"#0000"},{"offset":0.832,"color":"#000"},{"offset":0.834,"color":"#0000"},{"offset":0.84,"color":"#0000"},{"offset":0.842,"color":"#000"},{"offset":0.844,"color":"#0000"},{"offset":0.85,"color":"#0000"},{"offset":0.852,"color":"#000"},{"offset":0.854,"color":"#0000"},{"offset":0.86,"color":"#0000"},{"offset":0.862,"color":"#000"},{"offset":0.864,"color":"#0000"},{"offset":0.87,"color":"#0000"},{"offset":0.872,"color":"#000"},{"offset":0.874,"color":"#0000"},{"offset":0.88,"color":"#0000"},{"offset":0.882,"color":"#000"},{"offset":0.884,"color":"#0000"},{"offset":0.89,"color":"#0000"},{"offset":0.892,"color":"#000"},{"offset":0.894,"color":"#0000"},{"offset":0.90,"color":"#0000"},{"offset":0.902,"color":"#000"},{"offset":0.904,"color":"#0000"},{"offset":0.91,"color":"#0000"},{"offset":0.912,"color":"#000"},{"offset":0.914,"color":"#0000"},{"offset":0.92,"color":"#0000"},{"offset":0.922,"color":"#000"},{"offset":0.924,"color":"#0000"},{"offset":0.93,"color":"#0000"},{"offset":0.932,"color":"#000"},{"offset":0.934,"color":"#0000"},{"offset":0.94,"color":"#0000"},{"offset":0.942,"color":"#000"},{"offset":0.944,"color":"#0000"},{"offset":0.95,"color":"#0000"},{"offset":0.952,"color":"#000"},{"offset":0.954,"color":"#0000"},{"offset":0.96,"color":"#0000"},{"offset":0.962,"color":"#000"},{"offset":0.964,"color":"#0000"},{"offset":0.97,"color":"#0000"},{"offset":0.972,"color":"#000"},{"offset":0.974,"color":"#0000"},{"offset":0.98,"color":"#0000"},{"offset":0.982,"color":"#000"},{"offset":0.984,"color":"#0000"},{"offset":0.99,"color":"#0000"},{"offset":0.992,"color":"#000"},{"offset":0.994,"color":"#0000"}]}}},
{"data":{"name":"h"},"transform":[{"fold":["c1","c2","c3","c4","c5"],"as":["k","n"]},{"stack":"n","groupby":["m"],"sort":[{"field":"k"}],"as":["y0","y1"]},{"filter":"datum.k == 'c2'"}],"encoding":{
"x":{"field":"m","type":"quantitative","axis":{"title":"Hadronic top mass (GeV)","values":[80,90,100,110,120,130,140,150,160,170,180,190,200,210,220,230,240,250,260,270,280,290,300,310,320,330,340,350,360,370,380,390,400],"labelExpr":"datum.value % 50 == 0 && datum.value >= 100 ? datum.label : ''","ticks":false,"domain":false,"grid":true,"gridColor":"black","gridWidth":1.5,"gridDash":{"condition":{"test":"datum.value % 50 == 0","value":[0,562,17,1000]},"value":[0,572,7,1000]},"labelFont":"DejaVu Sans","labelFontSize":24,"labelColor":"black","labelPadding":18,"labelBaseline":"middle","labelFlush":false,"labelOverlap":false,"labelBound":false,"titleFont":"DejaVu Sans","titleFontSize":29,"titleFontWeight":"normal","titleColor":"black","titleAnchor":"end","titleAlign":"right","titleX":728,"titleY":47,"titleBaseline":"middle","zindex":1}},
"y":{"field":"y1","type":"quantitative","axis":{"title":"Events / 4 GeV","values":[0,5,10,15,20,25,30,35,40,45,50,55,60,65,70,75,80,85,90,95,100,105,110,115,120,125,130,135,140,145,150,155],"labelExpr":"datum.value % 20 == 0 ? datum.label : ''","ticks":false,"domain":false,"grid":true,"gridColor":"black","gridWidth":1.5,"gridDash":{"condition":{"test":"datum.value % 20 == 0","value":[20,686,20,1000]},"value":[10,706,10,1000]},"labelFont":"DejaVu Sans","labelFontSize":24,"labelColor":"black","labelPadding":12,"labelBaseline":"middle","labelOverlap":false,"labelBound":false,"titleFont":"DejaVu Sans","titleFontSize":25,"titleFontWeight":"normal","titleColor":"black","titleAngle":270,"titleAnchor":"end","titleAlign":"right","titleBaseline":"middle","titleX":-76,"titleY":0,"zindex":1}},
"y2":{"field":"y0"}},"mark":{"type":"area","interpolate":"step-after","stroke":"black","strokeWidth":1.5,"opacity":1,
"fill":{"gradient":"linear","x1":0,"y1":1,"x2":1.1774,"y2":0.7027,"stops":[{"offset":0.00,"color":"#0000"},{"offset":0.002,"color":"#000"},{"offset":0.004,"color":"#0000"},{"offset":0.01,"color":"#0000"},{"offset":0.012,"color":"#000"},{"offset":0.014,"color":"#0000"},{"offset":0.02,"color":"#0000"},{"offset":0.022,"color":"#000"},{"offset":0.024,"color":"#0000"},{"offset":0.03,"color":"#0000"},{"offset":0.032,"color":"#000"},{"offset":0.034,"color":"#0000"},{"offset":0.04,"color":"#0000"},{"offset":0.042,"color":"#000"},{"offset":0.044,"color":"#0000"},{"offset":0.05,"color":"#0000"},{"offset":0.052,"color":"#000"},{"offset":0.054,"color":"#0000"},{"offset":0.06,"color":"#0000"},{"offset":0.062,"color":"#000"},{"offset":0.064,"color":"#0000"},{"offset":0.07,"color":"#0000"},{"offset":0.072,"color":"#000"},{"offset":0.074,"color":"#0000"},{"offset":0.08,"color":"#0000"},{"offset":0.082,"color":"#000"},{"offset":0.084,"color":"#0000"},{"offset":0.09,"color":"#0000"},{"offset":0.092,"color":"#000"},{"offset":0.094,"color":"#0000"},{"offset":0.10,"color":"#0000"},{"offset":0.102,"color":"#000"},{"offset":0.104,"color":"#0000"},{"offset":0.11,"color":"#0000"},{"offset":0.112,"color":"#000"},{"offset":0.114,"color":"#0000"},{"offset":0.12,"color":"#0000"},{"offset":0.122,"color":"#000"},{"offset":0.124,"color":"#0000"},{"offset":0.13,"color":"#0000"},{"offset":0.132,"color":"#000"},{"offset":0.134,"color":"#0000"},{"offset":0.14,"color":"#0000"},{"offset":0.142,"color":"#000"},{"offset":0.144,"color":"#0000"},{"offset":0.15,"color":"#0000"},{"offset":0.152,"color":"#000"},{"offset":0.154,"color":"#0000"},{"offset":0.16,"color":"#0000"},{"offset":0.162,"color":"#000"},{"offset":0.164,"color":"#0000"},{"offset":0.17,"color":"#0000"},{"offset":0.172,"color":"#000"},{"offset":0.174,"color":"#0000"},{"offset":0.18,"color":"#0000"},{"offset":0.182,"color":"#000"},{"offset":0.184,"color":"#0000"},{"offset":0.19,"color":"#0000"},{"offset":0.192,"color":"#000"},{"offset":0.194,"color":"#0000"},{"offset":0.20,"color":"#0000"},{"offset":0.202,"color":"#000"},{"offset":0.204,"color":"#0000"},{"offset":0.21,"color":"#0000"},{"offset":0.212,"color":"#000"},{"offset":0.214,"color":"#0000"},{"offset":0.22,"color":"#0000"},{"offset":0.222,"color":"#000"},{"offset":0.224,"color":"#0000"},{"offset":0.23,"color":"#0000"},{"offset":0.232,"color":"#000"},{"offset":0.234,"color":"#0000"},{"offset":0.24,"color":"#0000"},{"offset":0.242,"color":"#000"},{"offset":0.244,"color":"#0000"},{"offset":0.25,"color":"#0000"},{"offset":0.252,"color":"#000"},{"offset":0.254,"color":"#0000"},{"offset":0.26,"color":"#0000"},{"offset":0.262,"color":"#000"},{"offset":0.264,"color":"#0000"},{"offset":0.27,"color":"#0000"},{"offset":0.272,"color":"#000"},{"offset":0.274,"color":"#0000"},{"offset":0.28,"color":"#0000"},{"offset":0.282,"color":"#000"},{"offset":0.284,"color":"#0000"},{"offset":0.29,"color":"#0000"},{"offset":0.292,"color":"#000"},{"offset":0.294,"color":"#0000"},{"offset":0.30,"color":"#0000"},{"offset":0.302,"color":"#000"},{"offset":0.304,"color":"#0000"},{"offset":0.31,"color":"#0000"},{"offset":0.312,"color":"#000"},{"offset":0.314,"color":"#0000"},{"offset":0.32,"color":"#0000"},{"offset":0.322,"color":"#000"},{"offset":0.324,"color":"#0000"},{"offset":0.33,"color":"#0000"},{"offset":0.332,"color":"#000"},{"offset":0.334,"color":"#0000"},{"offset":0.34,"color":"#0000"},{"offset":0.342,"color":"#000"},{"offset":0.344,"color":"#0000"},{"offset":0.35,"color":"#0000"},{"offset":0.352,"color":"#000"},{"offset":0.354,"color":"#0000"},{"offset":0.36,"color":"#0000"},{"offset":0.362,"color":"#000"},{"offset":0.364,"color":"#0000"},{"offset":0.37,"color":"#0000"},{"offset":0.372,"color":"#000"},{"offset":0.374,"color":"#0000"},{"offset":0.38,"color":"#0000"},{"offset":0.382,"color":"#000"},{"offset":0.384,"color":"#0000"},{"offset":0.39,"color":"#0000"},{"offset":0.392,"color":"#000"},{"offset":0.394,"color":"#0000"},{"offset":0.40,"color":"#0000"},{"offset":0.402,"color":"#000"},{"offset":0.404,"color":"#0000"},{"offset":0.41,"color":"#0000"},{"offset":0.412,"color":"#000"},{"offset":0.414,"color":"#0000"},{"offset":0.42,"color":"#0000"},{"offset":0.422,"color":"#000"},{"offset":0.424,"color":"#0000"},{"offset":0.43,"color":"#0000"},{"offset":0.432,"color":"#000"},{"offset":0.434,"color":"#0000"},{"offset":0.44,"color":"#0000"},{"offset":0.442,"color":"#000"},{"offset":0.444,"color":"#0000"},{"offset":0.45,"color":"#0000"},{"offset":0.452,"color":"#000"},{"offset":0.454,"color":"#0000"},{"offset":0.46,"color":"#0000"},{"offset":0.462,"color":"#000"},{"offset":0.464,"color":"#0000"},{"offset":0.47,"color":"#0000"},{"offset":0.472,"color":"#000"},{"offset":0.474,"color":"#0000"},{"offset":0.48,"color":"#0000"},{"offset":0.482,"color":"#000"},{"offset":0.484,"color":"#0000"},{"offset":0.49,"color":"#0000"},{"offset":0.492,"color":"#000"},{"offset":0.494,"color":"#0000"},{"offset":0.50,"color":"#0000"},{"offset":0.502,"color":"#000"},{"offset":0.504,"color":"#0000"},{"offset":0.51,"color":"#0000"},{"offset":0.512,"color":"#000"},{"offset":0.514,"color":"#0000"},{"offset":0.52,"color":"#0000"},{"offset":0.522,"color":"#000"},{"offset":0.524,"color":"#0000"},{"offset":0.53,"color":"#0000"},{"offset":0.532,"color":"#000"},{"offset":0.534,"color":"#0000"},{"offset":0.54,"color":"#0000"},{"offset":0.542,"color":"#000"},{"offset":0.544,"color":"#0000"},{"offset":0.55,"color":"#0000"},{"offset":0.552,"color":"#000"},{"offset":0.554,"color":"#0000"},{"offset":0.56,"color":"#0000"},{"offset":0.562,"color":"#000"},{"offset":0.564,"color":"#0000"},{"offset":0.57,"color":"#0000"},{"offset":0.572,"color":"#000"},{"offset":0.574,"color":"#0000"},{"offset":0.58,"color":"#0000"},{"offset":0.582,"color":"#000"},{"offset":0.584,"color":"#0000"},{"offset":0.59,"color":"#0000"},{"offset":0.592,"color":"#000"},{"offset":0.594,"color":"#0000"},{"offset":0.60,"color":"#0000"},{"offset":0.602,"color":"#000"},{"offset":0.604,"color":"#0000"},{"offset":0.61,"color":"#0000"},{"offset":0.612,"color":"#000"},{"offset":0.614,"color":"#0000"},{"offset":0.62,"color":"#0000"},{"offset":0.622,"color":"#000"},{"offset":0.624,"color":"#0000"},{"offset":0.63,"color":"#0000"},{"offset":0.632,"color":"#000"},{"offset":0.634,"color":"#0000"},{"offset":0.64,"color":"#0000"},{"offset":0.642,"color":"#000"},{"offset":0.644,"color":"#0000"},{"offset":0.65,"color":"#0000"},{"offset":0.652,"color":"#000"},{"offset":0.654,"color":"#0000"},{"offset":0.66,"color":"#0000"},{"offset":0.662,"color":"#000"},{"offset":0.664,"color":"#0000"},{"offset":0.67,"color":"#0000"},{"offset":0.672,"color":"#000"},{"offset":0.674,"color":"#0000"},{"offset":0.68,"color":"#0000"},{"offset":0.682,"color":"#000"},{"offset":0.684,"color":"#0000"},{"offset":0.69,"color":"#0000"},{"offset":0.692,"color":"#000"},{"offset":0.694,"color":"#0000"},{"offset":0.70,"color":"#0000"},{"offset":0.702,"color":"#000"},{"offset":0.704,"color":"#0000"},{"offset":0.71,"color":"#0000"},{"offset":0.712,"color":"#000"},{"offset":0.714,"color":"#0000"},{"offset":0.72,"color":"#0000"},{"offset":0.722,"color":"#000"},{"offset":0.724,"color":"#0000"},{"offset":0.73,"color":"#0000"},{"offset":0.732,"color":"#000"},{"offset":0.734,"color":"#0000"},{"offset":0.74,"color":"#0000"},{"offset":0.742,"color":"#000"},{"offset":0.744,"color":"#0000"},{"offset":0.75,"color":"#0000"},{"offset":0.752,"color":"#000"},{"offset":0.754,"color":"#0000"},{"offset":0.76,"color":"#0000"},{"offset":0.762,"color":"#000"},{"offset":0.764,"color":"#0000"},{"offset":0.77,"color":"#0000"},{"offset":0.772,"color":"#000"},{"offset":0.774,"color":"#0000"},{"offset":0.78,"color":"#0000"},{"offset":0.782,"color":"#000"},{"offset":0.784,"color":"#0000"},{"offset":0.79,"color":"#0000"},{"offset":0.792,"color":"#000"},{"offset":0.794,"color":"#0000"},{"offset":0.80,"color":"#0000"},{"offset":0.802,"color":"#000"},{"offset":0.804,"color":"#0000"},{"offset":0.81,"color":"#0000"},{"offset":0.812,"color":"#000"},{"offset":0.814,"color":"#0000"},{"offset":0.82,"color":"#0000"},{"offset":0.822,"color":"#000"},{"offset":0.824,"color":"#0000"},{"offset":0.83,"color":"#0000"},{"offset":0.832,"color":"#000"},{"offset":0.834,"color":"#0000"},{"offset":0.84,"color":"#0000"},{"offset":0.842,"color":"#000"},{"offset":0.844,"color":"#0000"},{"offset":0.85,"color":"#0000"},{"offset":0.852,"color":"#000"},{"offset":0.854,"color":"#0000"},{"offset":0.86,"color":"#0000"},{"offset":0.862,"color":"#000"},{"offset":0.864,"color":"#0000"},{"offset":0.87,"color":"#0000"},{"offset":0.872,"color":"#000"},{"offset":0.874,"color":"#0000"},{"offset":0.88,"color":"#0000"},{"offset":0.882,"color":"#000"},{"offset":0.884,"color":"#0000"},{"offset":0.89,"color":"#0000"},{"offset":0.892,"color":"#000"},{"offset":0.894,"color":"#0000"},{"offset":0.90,"color":"#0000"},{"offset":0.902,"color":"#000"},{"offset":0.904,"color":"#0000"},{"offset":0.91,"color":"#0000"},{"offset":0.912,"color":"#000"},{"offset":0.914,"color":"#0000"},{"offset":0.92,"color":"#0000"},{"offset":0.922,"color":"#000"},{"offset":0.924,"color":"#0000"},{"offset":0.93,"color":"#0000"},{"offset":0.932,"color":"#000"},{"offset":0.934,"color":"#0000"},{"offset":0.94,"color":"#0000"},{"offset":0.942,"color":"#000"},{"offset":0.944,"color":"#0000"},{"offset":0.95,"color":"#0000"},{"offset":0.952,"color":"#000"},{"offset":0.954,"color":"#0000"},{"offset":0.96,"color":"#0000"},{"offset":0.962,"color":"#000"},{"offset":0.964,"color":"#0000"},{"offset":0.97,"color":"#0000"},{"offset":0.972,"color":"#000"},{"offset":0.974,"color":"#0000"},{"offset":0.98,"color":"#0000"},{"offset":0.982,"color":"#000"},{"offset":0.984,"color":"#0000"},{"offset":0.99,"color":"#0000"},{"offset":0.992,"color":"#000"},{"offset":0.994,"color":"#0000"}]}}},
{"data":{"name":"h"},"transform":[{"fold":["c1","c2","c3","c4","c5"],"as":["k","n"]},{"stack":"n","groupby":["m"],"sort":[{"field":"k"}],"as":["y0","y1"]},{"filter":"datum.k == 'c1'"}],"encoding":{
"x":{"field":"m","type":"quantitative","axis":{"title":"Hadronic top mass (GeV)","values":[80,90,100,110,120,130,140,150,160,170,180,190,200,210,220,230,240,250,260,270,280,290,300,310,320,330,340,350,360,370,380,390,400],"labelExpr":"datum.value % 50 == 0 && datum.value >= 100 ? datum.label : ''","ticks":false,"domain":false,"grid":true,"gridColor":"black","gridWidth":1.5,"gridDash":{"condition":{"test":"datum.value % 50 == 0","value":[0,562,17,1000]},"value":[0,572,7,1000]},"labelFont":"DejaVu Sans","labelFontSize":24,"labelColor":"black","labelPadding":18,"labelBaseline":"middle","labelFlush":false,"labelOverlap":false,"labelBound":false,"titleFont":"DejaVu Sans","titleFontSize":29,"titleFontWeight":"normal","titleColor":"black","titleAnchor":"end","titleAlign":"right","titleX":728,"titleY":47,"titleBaseline":"middle","zindex":1}},
"y":{"field":"y1","type":"quantitative","axis":{"title":"Events / 4 GeV","values":[0,5,10,15,20,25,30,35,40,45,50,55,60,65,70,75,80,85,90,95,100,105,110,115,120,125,130,135,140,145,150,155],"labelExpr":"datum.value % 20 == 0 ? datum.label : ''","ticks":false,"domain":false,"grid":true,"gridColor":"black","gridWidth":1.5,"gridDash":{"condition":{"test":"datum.value % 20 == 0","value":[20,686,20,1000]},"value":[10,706,10,1000]},"labelFont":"DejaVu Sans","labelFontSize":24,"labelColor":"black","labelPadding":12,"labelBaseline":"middle","labelOverlap":false,"labelBound":false,"titleFont":"DejaVu Sans","titleFontSize":25,"titleFontWeight":"normal","titleColor":"black","titleAngle":270,"titleAnchor":"end","titleAlign":"right","titleBaseline":"middle","titleX":-76,"titleY":0,"zindex":1}},
"y2":{"field":"y0"}},"mark":{"type":"area","interpolate":"step-after","fill":"black","stroke":"black","strokeWidth":1.5,"opacity":1}},
{"data":{"values":[{"t":"ATLAS"}]},"mark":{"type":"text","font":"DejaVu Sans","fontSize":35,"fontWeight":"bold","fontStyle":"italic","align":"right","baseline":"middle"},
"encoding":{
"x":{"datum":389.5,"type":"quantitative","axis":{"title":"Hadronic top mass (GeV)","values":[80,90,100,110,120,130,140,150,160,170,180,190,200,210,220,230,240,250,260,270,280,290,300,310,320,330,340,350,360,370,380,390,400],"labelExpr":"datum.value % 50 == 0 && datum.value >= 100 ? datum.label : ''","ticks":false,"domain":false,"grid":true,"gridColor":"black","gridWidth":1.5,"gridDash":{"condition":{"test":"datum.value % 50 == 0","value":[0,562,17,1000]},"value":[0,572,7,1000]},"labelFont":"DejaVu Sans","labelFontSize":24,"labelColor":"black","labelPadding":18,"labelBaseline":"middle","labelFlush":false,"labelOverlap":false,"labelBound":false,"titleFont":"DejaVu Sans","titleFontSize":29,"titleFontWeight":"normal","titleColor":"black","titleAnchor":"end","titleAlign":"right","titleX":728,"titleY":47,"titleBaseline":"middle","zindex":1}},
"y":{"datum":147,"type":"quantitative","axis":{"title":"Events / 4 GeV","values":[0,5,10,15,20,25,30,35,40,45,50,55,60,65,70,75,80,85,90,95,100,105,110,115,120,125,130,135,140,145,150,155],"labelExpr":"datum.value % 20 == 0 ? datum.label : ''","ticks":false,"domain":false,"grid":true,"gridColor":"black","gridWidth":1.5,"gridDash":{"condition":{"test":"datum.value % 20 == 0","value":[20,686,20,1000]},"value":[10,706,10,1000]},"labelFont":"DejaVu Sans","labelFontSize":24,"labelColor":"black","labelPadding":12,"labelBaseline":"middle","labelOverlap":false,"labelBound":false,"titleFont":"DejaVu Sans","titleFontSize":25,"titleFontWeight":"normal","titleColor":"black","titleAngle":270,"titleAnchor":"end","titleAlign":"right","titleBaseline":"middle","titleX":-76,"titleY":0,"zindex":1}},
"text":{"field":"t"},"fill":{"value":"black"}}},
{"data":{"values":[{"t":"ΔR(b-jet,b-parton)<0.5"}]},"mark":{"type":"text","font":"Liberation Serif","fontSize":38,"fontWeight":"bold","align":"right","baseline":"middle"},
"encoding":{
"x":{"datum":389.5,"type":"quantitative","axis":{"title":"Hadronic top mass (GeV)","values":[80,90,100,110,120,130,140,150,160,170,180,190,200,210,220,230,240,250,260,270,280,290,300,310,320,330,340,350,360,370,380,390,400],"labelExpr":"datum.value % 50 == 0 && datum.value >= 100 ? datum.label : ''","ticks":false,"domain":false,"grid":true,"gridColor":"black","gridWidth":1.5,"gridDash":{"condition":{"test":"datum.value % 50 == 0","value":[0,562,17,1000]},"value":[0,572,7,1000]},"labelFont":"DejaVu Sans","labelFontSize":24,"labelColor":"black","labelPadding":18,"labelBaseline":"middle","labelFlush":false,"labelOverlap":false,"labelBound":false,"titleFont":"DejaVu Sans","titleFontSize":29,"titleFontWeight":"normal","titleColor":"black","titleAnchor":"end","titleAlign":"right","titleX":728,"titleY":47,"titleBaseline":"middle","zindex":1}},
"y":{"datum":68.8,"type":"quantitative","axis":{"title":"Events / 4 GeV","values":[0,5,10,15,20,25,30,35,40,45,50,55,60,65,70,75,80,85,90,95,100,105,110,115,120,125,130,135,140,145,150,155],"labelExpr":"datum.value % 20 == 0 ? datum.label : ''","ticks":false,"domain":false,"grid":true,"gridColor":"black","gridWidth":1.5,"gridDash":{"condition":{"test":"datum.value % 20 == 0","value":[20,686,20,1000]},"value":[10,706,10,1000]},"labelFont":"DejaVu Sans","labelFontSize":24,"labelColor":"black","labelPadding":12,"labelBaseline":"middle","labelOverlap":false,"labelBound":false,"titleFont":"DejaVu Sans","titleFontSize":25,"titleFontWeight":"normal","titleColor":"black","titleAngle":270,"titleAnchor":"end","titleAlign":"right","titleBaseline":"middle","titleX":-76,"titleY":0,"zindex":1}},
"text":{"field":"t"},"fill":{"value":"#ff0000"}}}
]
}
